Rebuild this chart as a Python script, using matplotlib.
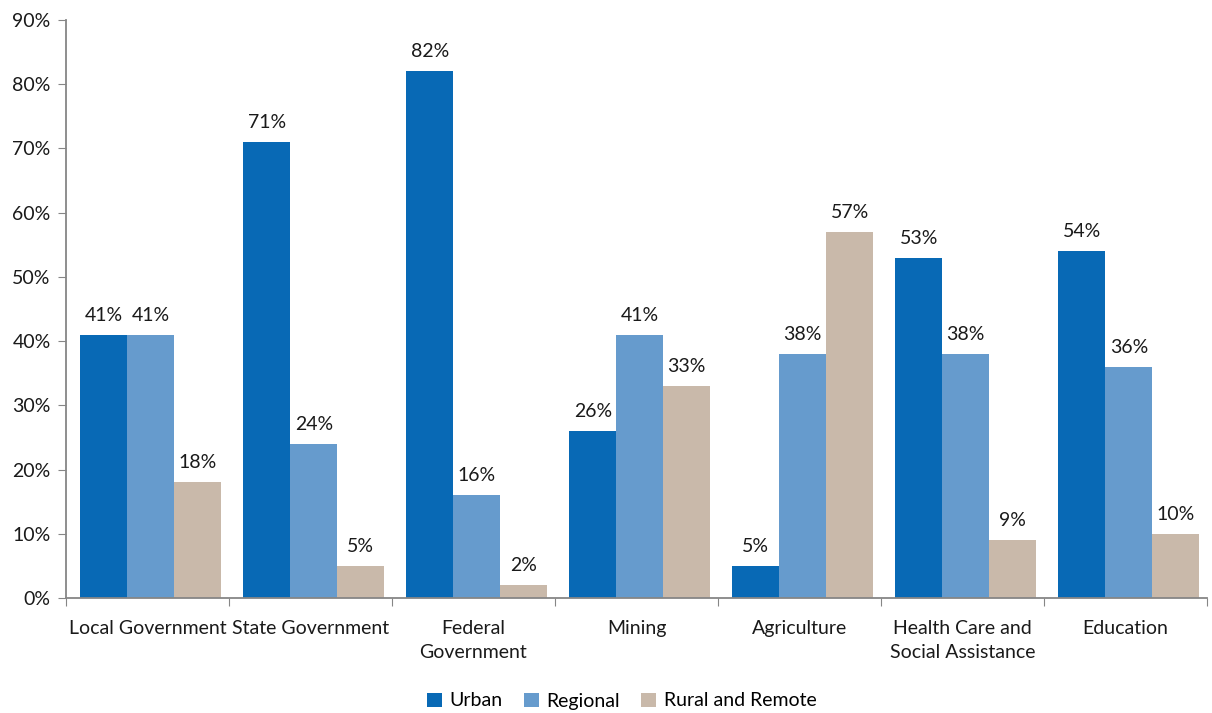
import matplotlib
matplotlib.use("Agg")
import matplotlib.pyplot as plt
import numpy as np

categories = ["Local Government", "State Government", "Federal\nGovernment", "Mining",
              "Agriculture", "Health Care and\nSocial Assistance", "Education"]
urban = [41, 71, 82, 26, 5, 53, 54]
regional = [41, 24, 16, 41, 38, 38, 36]
rural = [18, 5, 2, 33, 57, 9, 10]
series_names = ["Urban", "Regional", "Rural and Remote"]
colors = ["#0869B5", "#669BCD", "#C9B9AA"]

plt.rcParams['font.family'] = ['Lato', 'DejaVu Sans']
FS = 14

fig = plt.figure(figsize=(12.12, 7.13), dpi=100)
ax = fig.add_axes([66/1212, 1-598/713, (1207-66)/1212, (598-20)/713])

x = np.arange(len(categories))
w = 0.288
for i, (vals, name, c) in enumerate(zip([urban, regional, rural], series_names, colors)):
    pos = x + (i - 1) * w + 0.02
    ax.bar(pos, vals, width=w, color=c, label=name, edgecolor='none')
    for p, v in zip(pos, vals):
        ax.text(p, v + 1.7, f"{v}%", ha='center', va='bottom', fontsize=FS, color='#1a1a1a')

ax.set_xlim(-0.5, len(categories) - 0.5)
ax.set_ylim(0, 90)
ax.set_yticks(np.arange(0, 91, 10))
ax.set_yticklabels([f"{v}%" for v in range(0, 91, 10)], fontsize=FS, color='#1a1a1a')
ax.set_xticks(np.arange(-0.5, len(categories), 1.0))
ax.set_xticklabels([])
ax.set_xticks(x, minor=True)
ax.set_xticklabels(categories, minor=True, fontsize=FS, color='#1a1a1a', va='top', linespacing=1.5)
ax.tick_params(axis='x', which='minor', length=0, pad=16)
ax.tick_params(axis='x', which='major', length=6, color='#868686', direction='out')
ax.tick_params(axis='y', length=6, color='#868686', direction='out', pad=5)
for s in ['top', 'right']:
    ax.spines[s].set_visible(False)
for s in ['left', 'bottom']:
    ax.spines[s].set_color('#868686')
    ax.spines[s].set_linewidth(1.3)

fig.legend(loc='center', bbox_to_anchor=(0.513, 1-701/713), ncol=3, frameon=False,
           fontsize=FS, handlelength=0.75, handleheight=0.75, handletextpad=0.4,
           columnspacing=1.1)

fig.savefig("out.png", dpi=100)
